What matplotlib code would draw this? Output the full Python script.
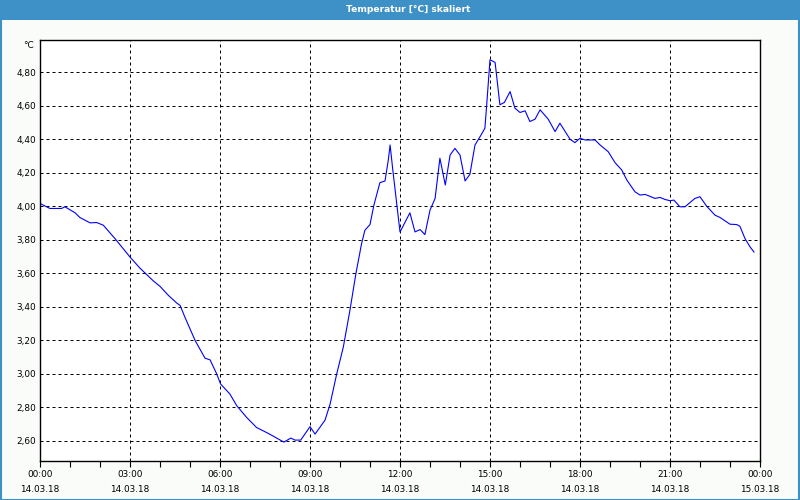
import matplotlib
matplotlib.use("Agg")
import matplotlib.pyplot as plt
from matplotlib.ticker import FuncFormatter, MultipleLocator
from matplotlib.patches import Rectangle

# time in hours since 14.03.18 00:00, temperature in °C
hours = [0.00, 0.33, 0.72, 0.83, 1.17, 1.33, 1.67, 1.89, 2.11, 2.50,
         3.00, 3.33, 3.78, 4.00, 4.28, 4.56, 4.67, 4.83, 5.17, 5.50,
         5.67, 5.89, 6.02, 6.33, 6.56, 6.89, 7.22, 7.61, 7.89, 8.13,
         8.36, 8.50, 8.69, 9.00, 9.17, 9.50, 9.67, 9.89, 10.11, 10.33,
         10.53, 10.72, 10.83, 11.00, 11.13, 11.33, 11.50, 11.61, 11.67, 11.76,
         11.89, 12.00, 12.06, 12.33, 12.50, 12.67, 12.83, 13.00, 13.17, 13.33,
         13.51, 13.67, 13.83, 14.00, 14.17, 14.33, 14.50, 14.67, 14.83, 14.89,
         15.00, 15.17, 15.33, 15.48, 15.67, 15.83, 16.00, 16.17, 16.33, 16.50,
         16.67, 16.94, 17.17, 17.33, 17.67, 17.83, 18.00, 18.17, 18.50, 18.67,
         18.94, 19.17, 19.39, 19.56, 19.83, 20.00, 20.17, 20.50, 20.67, 20.83,
         21.00, 21.13, 21.33, 21.50, 21.83, 22.00, 22.22, 22.50, 22.67, 23.00,
         23.22, 23.33, 23.50, 23.67, 23.80]
temps = [4.016, 3.986, 3.986, 3.996, 3.960, 3.932, 3.900, 3.902, 3.886, 3.806,
         3.696, 3.630, 3.553, 3.521, 3.467, 3.421, 3.407, 3.337, 3.198, 3.092,
         3.082, 2.998, 2.938, 2.878, 2.808, 2.738, 2.678, 2.643, 2.615, 2.591,
         2.615, 2.603, 2.603, 2.683, 2.639, 2.722, 2.818, 2.998, 3.158, 3.377,
         3.597, 3.777, 3.856, 3.890, 4.006, 4.140, 4.150, 4.275, 4.365, 4.216,
         4.016, 3.846, 3.866, 3.960, 3.846, 3.860, 3.830, 3.976, 4.046, 4.286,
         4.126, 4.305, 4.345, 4.305, 4.150, 4.190, 4.365, 4.415, 4.465, 4.605,
         4.874, 4.858, 4.605, 4.619, 4.684, 4.585, 4.559, 4.569, 4.505, 4.519,
         4.575, 4.519, 4.445, 4.495, 4.399, 4.379, 4.405, 4.395, 4.395, 4.365,
         4.325, 4.259, 4.216, 4.156, 4.086, 4.066, 4.070, 4.046, 4.052, 4.040,
         4.032, 4.036, 3.996, 3.996, 4.046, 4.056, 4.000, 3.946, 3.932, 3.892,
         3.890, 3.880, 3.806, 3.756, 3.726]

tick_hours = [0, 3, 6, 9, 12, 15, 18, 21, 24]
tick_labels = ["00:00\n14.03.18", "03:00\n14.03.18", "06:00\n14.03.18",
               "09:00\n14.03.18", "12:00\n14.03.18", "15:00\n14.03.18",
               "18:00\n14.03.18", "21:00\n14.03.18", "00:00\n15.03.18"]
y_ticks = [2.6, 2.8, 3.0, 3.2, 3.4, 3.6, 3.8, 4.0, 4.2, 4.4, 4.6, 4.8]

plt.rcParams['font.family'] = ['DejaVu Sans']
fig = plt.figure(figsize=(8, 5), dpi=100, facecolor='#fafcfa')

# title bar + frame
fig.patches.append(Rectangle((0, 480 / 500), 1, 20 / 500, transform=fig.transFigure,
                             facecolor='#3d91c7', edgecolor='none', zorder=0))
fig.patches.append(Rectangle((0.001, 0.001), 0.998, 0.998, transform=fig.transFigure,
                             facecolor='none', edgecolor='#3d91c7', lw=1.5, zorder=1))
fig.text(408 / 800, 490 / 500, "Temperatur [°C] skaliert", color='white', fontsize=6.6,
         fontweight='bold', ha='center', va='center')

ax = fig.add_axes([0.05, 0.0786, 0.90, 0.8408])
ax.set_facecolor('white')
ax.plot(hours, temps, color='#0000ff', lw=0.8)

ax.set_xlim(0, 24)
ax.set_ylim(2.48, 4.99)
ax.set_xticks(tick_hours)
ax.set_xticklabels(tick_labels, fontsize=6.4, linespacing=1.85)
ax.xaxis.set_minor_locator(MultipleLocator(1))
ax.set_yticks(y_ticks)
ax.yaxis.set_major_formatter(FuncFormatter(lambda v, p: f"{v:.2f}".replace('.', ',')))
ax.tick_params(axis='y', length=0, pad=3, labelsize=6.4)
ax.tick_params(axis='x', which='both', length=4, width=0.8, pad=3, direction='out')

ax.grid(True, color='black', lw=0.72, linestyle=(0, (3, 3)))
for s in ax.spines.values():
    s.set_linewidth(1.0)
    s.set_color('black')

ax.text(-0.008, 0.988, "°C", transform=ax.transAxes, ha='right', va='center', fontsize=6.4)

fig.savefig("out.png", dpi=100, facecolor=fig.get_facecolor())
